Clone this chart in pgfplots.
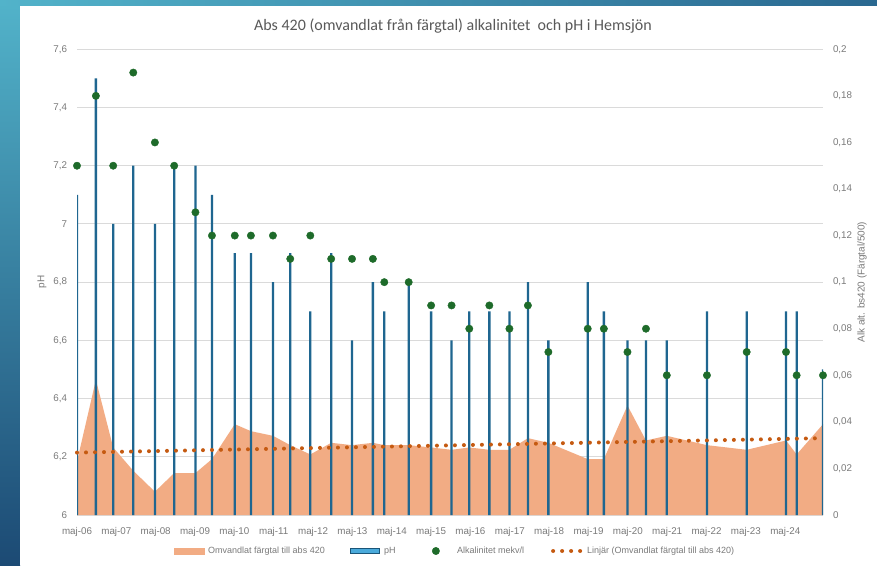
\documentclass[border=0pt]{standalone}
\usepackage{pgfplots}
\usepackage{pgfplotstable}
\pgfplotsset{compat=1.18}
\usepackage{fontspec}
\setmainfont{Liberation Sans}
\newfontfamily\titlefont{Carlito}
\definecolor{areaC}{HTML}{F2AC84}
\definecolor{barC}{HTML}{1F6690}
\definecolor{barEdge}{HTML}{1A5578}
\definecolor{barLight}{HTML}{4AAADB}
\definecolor{dotC}{HTML}{1E6B2A}
\definecolor{trendC}{HTML}{C55A11}
\definecolor{gridC}{HTML}{DADADA}
\definecolor{tickC}{HTML}{7A7A7A}
\definecolor{titleC}{HTML}{595959}
\definecolor{bgTeal}{HTML}{52B3CA}
\definecolor{bgDark}{HTML}{1C4A74}
\definecolor{bgMid}{HTML}{2A6890}

\pgfplotstableread{
x ph alk col
0.00 7.1 0.15 0.023
0.48 7.5 0.18 0.058
0.92 7.0 0.15 0.029
1.43 7.2 0.19 0.019
1.98 7.0 0.16 0.010
2.47 7.2 0.15 0.018
3.01 7.2 0.13 0.018
3.43 7.1 0.12 0.024
4.01 6.9 0.12 0.039
4.42 6.9 0.12 0.036
4.98 6.8 0.12 0.034
5.42 6.9 0.11 0.030
5.93 6.7 0.12 0.026
6.46 6.9 0.11 0.031
6.99 6.6 0.11 0.030
7.52 6.8 0.11 0.031
7.81 6.7 0.10 0.030
8.43 6.8 0.10 0.030
9.00 6.7 0.09 0.029
9.52 6.6 0.09 0.028
9.97 6.7 0.08 0.029
10.48 6.7 0.09 0.028
10.99 6.7 0.08 0.028
11.46 6.8 0.09 0.033
11.98 6.6 0.07 0.031
12.98 6.8 0.08 0.024
13.39 6.7 0.08 0.024
13.99 6.6 0.07 0.047
14.46 6.6 0.08 0.032
14.99 6.6 0.06 0.034
16.01 6.7 0.06 0.030
17.02 6.7 0.07 0.028
18.02 6.7 0.07 0.032
18.29 6.7 0.06 0.026
18.96 6.5 0.06 0.039
}\data

\pgfplotsset{
  base/.style={
    scale only axis, width=746pt, height=465.7pt,
    at={(77pt,50pt)}, anchor=south west,
    xmin=0, xmax=18.96,
    axis line style={draw=none},
    major tick length=0pt, minor tick length=0pt,
    ticklabel style={font=\fontsize{9.8}{11}\selectfont, text=tickC},
    scaled ticks=false,
    xtick=\empty, ytick=\empty,
  },
}

\begin{document}
\begin{tikzpicture}[x=1pt,y=1pt]
\shade[top color=bgTeal, bottom color=bgDark] (0,0) rectangle (20,565);
\shade[left color=bgTeal, right color=bgMid] (0,559) rectangle (877,565);
\fill[white] (20,0) rectangle (877,559);

\node[font=\titlefont\fontsize{16}{19}\selectfont, text=titleC] at (453,539)
  {Abs 420 (omvandlat från färgtal) alkalinitet\ \ och pH i Hemsjön};

% axis 1: grid, left ticks, x ticks
\begin{axis}[base,
  ymin=6, ymax=7.6,
  ytick={6,6.2,6.4,6.6,6.8,7,7.2,7.4,7.6},
  yticklabels={6,{6,2},{6,4},{6,6},{6,8},7,{7,2},{7,4},{7,6}},
  ymajorgrids, grid style={gridC, line width=1pt},
  xtick={0,1,...,18},
  xticklabels={maj-06,maj-07,maj-08,maj-09,maj-10,maj-11,maj-12,maj-13,maj-14,maj-15,maj-16,maj-17,maj-18,maj-19,maj-20,maj-21,maj-22,maj-23,maj-24},
  xticklabel style={yshift=-9pt},
  yticklabel style={xshift=-6.5pt},
  ylabel={pH},
  ylabel style={at={(axis description cs:-0.047,0.5)}, anchor=center, font=\fontsize{10}{12}\selectfont, text=tickC},
]
\addplot[draw=none] coordinates {(0,6)};
\end{axis}

% axis 2: area (right scale)
\begin{axis}[base, ymin=0, ymax=0.2]
\addplot[fill=areaC, draw=none] table[x=x, y=col] {\data} \closedcycle;
\end{axis}

% axis 3: pH bars (left scale)
\begin{axis}[base, ymin=6, ymax=7.6]
\addplot[ybar, bar width=2.3pt, fill=barC, draw=none] table[x=x, y=ph] {\data};
\end{axis}

% axis 4: alkalinity, trend, right ticks, legend
\begin{axis}[base, ymin=0, ymax=0.2,
  axis y line*=right, axis x line=none,
  y axis line style={draw=none},
  ytick={0,0.02,0.04,0.06,0.08,0.1,0.12,0.14,0.16,0.18,0.2},
  yticklabels={0,{0,02},{0,04},{0,06},{0,08},{0,1},{0,12},{0,14},{0,16},{0,18},{0,2}},
  yticklabel style={xshift=6.5pt},
  ylabel={Alk alt. bs420 (Färgtal/500)},
  ylabel style={at={(axis description cs:1.0523,0.5)}, anchor=center, font=\fontsize{10}{12}\selectfont, text=tickC},
  clip=false,
  legend columns=4,
  legend style={at={(axis description cs:0.5067,-0.0773)}, anchor=center, draw=none, fill=none,
    font=\fontsize{9}{11}\selectfont, text=tickC,
    /tikz/every even column/.append style={column sep=23pt}},
  legend cell align=left,
]
\addlegendimage{legend image code/.code={\fill[areaC] (0pt,-3pt) rectangle (30pt,3pt); \path (0pt,0pt) (32pt,0pt);}}
\addlegendentry{Omvandlat färgtal till abs 420}
\addlegendimage{legend image code/.code={\draw[barEdge, fill=barLight, line width=1pt] (0.5pt,-2.5pt) rectangle (29.5pt,2.5pt); \path (0pt,0pt) (32pt,0pt);}}
\addlegendentry{pH}
\addplot[only marks, mark=*, mark size=3.7pt, color=dotC,
  legend image code/.code={\path (0pt,0pt) (34pt,0pt); \fill[dotC] (15pt,0pt) circle (3.7pt);}]
  table[x=x, y=alk] {\data};
\addlegendentry{Alkalinitet mekv/l}
\addplot[trendC, line width=4pt, line cap=round, dash pattern=on 0pt off 9pt,
  legend image code/.code={\draw[trendC, line width=4pt, line cap=round, dash pattern=on 0pt off 9pt] (2pt,0pt) -- (29pt,0pt); \path (0pt,0pt) (32pt,0pt);}]
  coordinates {(0,0.0268) (18.96,0.0330)};
\addlegendentry{Linjär (Omvandlat färgtal till abs 420)}
\end{axis}
\pgfresetboundingbox
\useasboundingbox (0,0) rectangle (877,565);
\end{tikzpicture}
\end{document}
